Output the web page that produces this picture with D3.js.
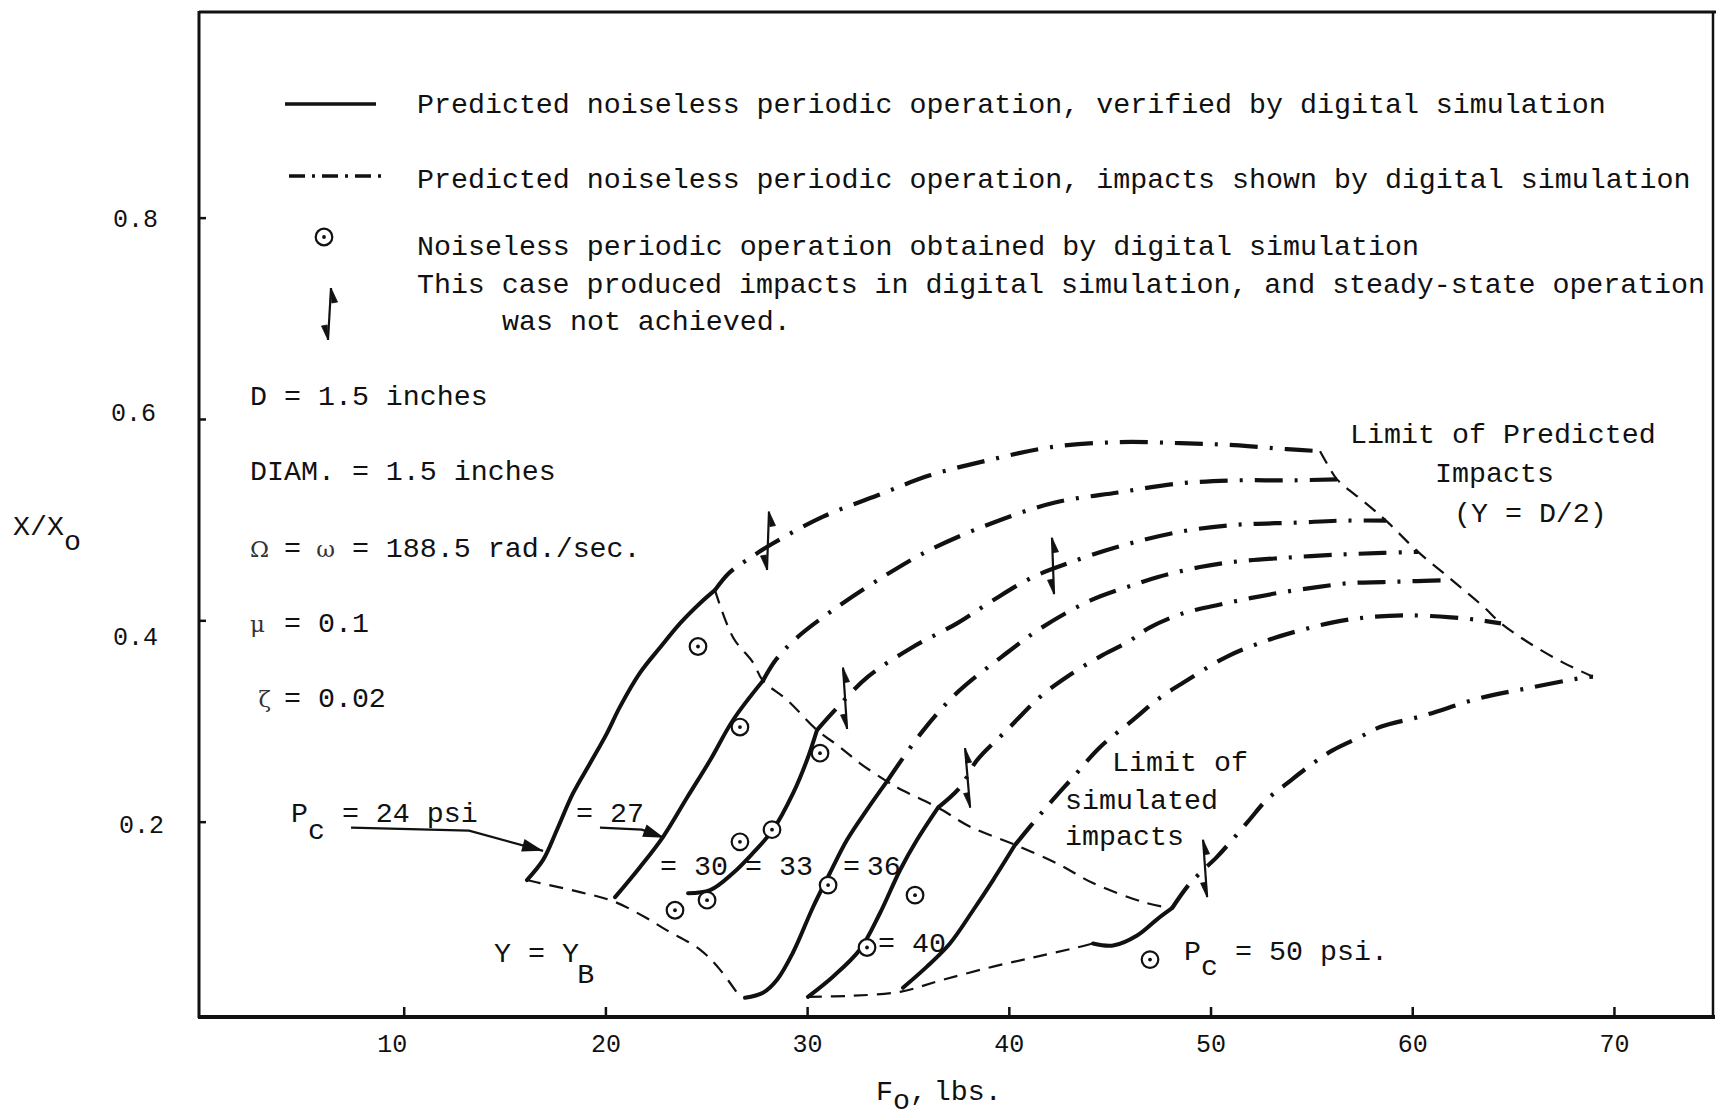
<!DOCTYPE html>
<html>
<head>
<meta charset="utf-8">
<script src="https://cdn.jsdelivr.net/npm/d3@7"></script>
<style>
  html, body { margin: 0; padding: 0; background: #fff; }
  svg { display: block; }
  text { font-family: "Liberation Mono", "DejaVu Sans Mono", monospace; fill: #111; }
  .tw { font-size: 28.3px; }
  .gk { font-family: "DejaVu Serif", serif; font-size: 23px; fill: #333; }
  .tick text { font-family: "Liberation Mono", monospace; font-size: 25px; fill: #111; }
  .tick line { stroke: #111; stroke-width: 2.5; }
</style>
</head>
<body>
<svg id="chart" width="1718" height="1116"></svg>
<script>
// ---------------- data: F_o (lbs) vs X/X_o ----------------
const xTicks = [10, 20, 30, 40, 50, 60, 70];
const yTicks = [0.2, 0.4, 0.6, 0.8];
const pressures = [24, 27, 30, 33, 36, 40, 50];   // P_c, psi

// predicted operation verified by simulation (solid)
const verified24 = [[16.11,0.142],[16.91,0.162],[17.60,0.192],[18.39,0.228],[19.24,0.258],[20.08,0.288],[20.72,0.314],[21.72,0.348],[22.71,0.373],[23.70,0.397],[24.69,0.417],[25.43,0.430]];
const verified27 = [[20.48,0.125],[21.72,0.155],[22.86,0.185],[24.05,0.224],[25.19,0.261],[26.33,0.301],[27.81,0.340]];
const verified30 = [[24.10,0.129],[25.19,0.132],[26.33,0.149],[27.32,0.169],[28.31,0.192],[29.30,0.228],[29.99,0.261],[30.49,0.291]];
const verified33 = [[26.92,0.025],[27.81,0.030],[28.51,0.043],[29.30,0.070],[30.29,0.115],[31.13,0.149],[31.98,0.182],[32.97,0.212],[33.96,0.240]];
const verified36 = [[30.04,0.026],[31.28,0.046],[32.62,0.073],[33.61,0.109],[34.61,0.152],[35.45,0.182],[36.49,0.214]];
const verified40 = [[34.75,0.035],[35.94,0.056],[37.08,0.079],[38.23,0.112],[39.22,0.142],[40.31,0.177]];
const verified50 = [[44.17,0.079],[45.17,0.077],[46.36,0.087],[47.35,0.103],[48.09,0.114]];

// predicted operation where simulation showed impacts (dash-dot)
const impact24 = [[25.43,0.430],[26.13,0.447],[27.02,0.460],[28.36,0.477],[30.79,0.503],[33.47,0.524],[36.09,0.544],[38.97,0.559],[42.09,0.572],[45.41,0.577],[48.49,0.576],[51.17,0.574],[53.79,0.570],[55.43,0.568]];
const impact27 = [[27.81,0.340],[28.46,0.361],[29.45,0.382],[31.48,0.413],[33.91,0.445],[36.09,0.470],[39.22,0.497],[42.29,0.517],[45.41,0.527],[48.49,0.536],[51.17,0.539],[53.79,0.539],[56.27,0.540]];
const impact30 = [[30.49,0.291],[31.48,0.313],[33.02,0.344],[35.20,0.373],[37.43,0.397],[39.22,0.420],[41.20,0.443],[42.98,0.457],[45.41,0.473],[48.49,0.488],[51.36,0.495],[54.24,0.497],[56.42,0.499],[58.70,0.499]];
const impact33 = [[33.96,0.240],[35.65,0.288],[37.43,0.328],[39.66,0.364],[41.65,0.393],[44.08,0.420],[46.16,0.435],[47.40,0.443],[49.48,0.453],[51.12,0.458],[53.59,0.462],[56.07,0.465],[58.55,0.467],[60.29,0.468]];
const impact36 = [[36.49,0.214],[37.58,0.234],[38.42,0.261],[39.91,0.291],[41.55,0.324],[42.89,0.344],[44.52,0.364],[45.86,0.378],[47.00,0.393],[48.64,0.407],[50.32,0.415],[51.96,0.422],[53.59,0.428],[55.28,0.433],[56.92,0.437],[58.55,0.438],[60.24,0.439],[61.97,0.440]];
const impact40 = [[40.31,0.177],[41.05,0.195],[41.89,0.215],[43.18,0.244],[44.52,0.274],[46.16,0.301],[47.35,0.321],[48.64,0.338],[50.82,0.364],[52.80,0.380],[54.44,0.390],[56.07,0.398],[57.76,0.403],[59.64,0.405],[61.92,0.403],[63.41,0.400],[64.40,0.397]];
const impact50 = [[48.09,0.114],[48.83,0.135],[49.48,0.149],[50.32,0.165],[51.81,0.199],[52.80,0.222],[53.79,0.238],[55.08,0.258],[56.07,0.271],[57.41,0.284],[58.40,0.294],[60.50,0.305],[63.41,0.323],[65.84,0.333],[68.47,0.343],[68.96,0.344]];

// boundaries (thin dashed)
const limitSimulated = [[25.43,0.430],[26.33,0.383],[27.32,0.358],[27.81,0.340],[29.00,0.321],[30.49,0.291],[31.63,0.274],[32.62,0.258],[33.96,0.240],[34.75,0.231],[36.49,0.214],[38.08,0.195],[40.31,0.177],[42.54,0.157],[44.17,0.139],[46.85,0.119],[48.09,0.114]];
const limitPredicted = [[55.43,0.568],[55.88,0.552],[56.27,0.540],[57.66,0.517],[58.70,0.499],[60.29,0.468],[61.97,0.440],[63.56,0.413],[64.40,0.397],[65.84,0.377],[67.48,0.358],[68.96,0.344]];
const boundaryYB = [[16.11,0.142],[16.76,0.139],[18.74,0.130],[20.38,0.121],[22.06,0.104],[23.05,0.092],[24.69,0.073],[25.68,0.053],[26.52,0.030]];
const boundaryLow = [[30.04,0.026],[32.13,0.027],[34.61,0.031],[36.74,0.043],[39.22,0.056],[41.40,0.066],[43.38,0.075],[44.17,0.079]];

// noiseless periodic operation obtained by simulation
const simulatedPoints = [[24.59,0.374],[26.67,0.294],[30.64,0.268],[26.67,0.180],[28.26,0.192],[23.45,0.112],[25.04,0.122],[31.04,0.137],[32.97,0.075],[35.35,0.127],[47.00,0.063]];

// cases with impacts and no steady state: [F top, X top, F bottom, X bottom]
const impactCases = [[28.11,0.508,28.01,0.450],[42.14,0.482,42.24,0.426],[31.78,0.353,31.98,0.292],[37.83,0.273,38.08,0.214],[49.63,0.182,49.83,0.125]];

// label pointers
const pointer24 = [[7.39,0.194],[13.24,0.191],[16.91,0.171]];
const pointer27 = [[19.73,0.194],[21.81,0.192],[22.91,0.184]];

const verified = [verified24, verified27, verified30, verified33, verified36, verified40, verified50];
const impacts  = [impact24, impact27, impact30, impact33, impact36, impact40, impact50];

// ---------------- drawing ----------------
const svg = d3.select("#chart");
const ink = "#111";
const x = d3.scaleLinear().domain([0, 75]).range([202, 1714.8]);
const y = d3.scaleLinear().domain([0, 1]).range([1023, 16.3]);
const curve = d3.line().x(d => x(d[0])).y(d => y(d[1])).curve(d3.curveCatmullRom.alpha(0.5));
const straight = d3.line().x(d => x(d[0])).y(d => y(d[1]));

// frame
const frame = svg.append("g").attr("stroke", ink).attr("fill", "none");
frame.append("line").attr("x1", 199).attr("y1", 12).attr("x2", 1716).attr("y2", 12).attr("stroke-width", 3);
frame.append("line").attr("x1", 199).attr("y1", 11).attr("x2", 199).attr("y2", 1018).attr("stroke-width", 3);
frame.append("line").attr("x1", 1713).attr("y1", 11).attr("x2", 1713).attr("y2", 1018).attr("stroke-width", 2.5);
frame.append("line").attr("x1", 198).attr("y1", 1017).attr("x2", 1715).attr("y2", 1017).attr("stroke-width", 4);

// axes
const xLabelNudge = {10: -12};
const yLabelNudge = {0.2: [6, 3], 0.4: [0, 16], 0.6: [-2, -6], 0.8: [0, 1]};
const gx = svg.append("g").attr("transform", "translate(0,1017)")
  .call(d3.axisBottom(x).tickValues(xTicks).tickSize(-10).tickPadding(17).tickFormat(d3.format("d")));
gx.select(".domain").remove();
gx.selectAll(".tick text").attr("dx", d => xLabelNudge[d] || 0);
const gy = svg.append("g").attr("transform", "translate(199,0)")
  .call(d3.axisLeft(y).tickValues(yTicks).tickSize(-7).tickPadding(41).tickFormat(d3.format(".1f")));
gy.select(".domain").remove();
gy.selectAll(".tick text")
  .attr("dx", d => (yLabelNudge[d] || [0, 0])[0])
  .attr("y", d => (yLabelNudge[d] || [0, 0])[1]);

// thin dashed boundaries
const dashed = svg.append("g").attr("fill", "none").attr("stroke", ink)
  .attr("stroke-width", 2.2).attr("stroke-dasharray", "14 9");
[limitSimulated, limitPredicted, boundaryYB, boundaryLow].forEach(p =>
  dashed.append("path").attr("d", curve(p)));

// dash-dot predicted segments
svg.append("g").attr("fill", "none").attr("stroke", ink).attr("stroke-width", 4.2)
  .attr("stroke-dasharray", "28 12 3 12").attr("stroke-linecap", "butt")
  .selectAll("path").data(impacts).join("path").attr("d", curve);

// solid verified segments
svg.append("g").attr("fill", "none").attr("stroke", ink).attr("stroke-width", 4)
  .attr("stroke-linecap", "round")
  .selectAll("path").data(verified).join("path").attr("d", curve);

// pointers from the P_c labels
function pointer(pts) {
  svg.append("path").attr("d", straight(pts)).attr("fill", "none").attr("stroke", ink).attr("stroke-width", 2.2);
  const a = pts[pts.length - 2], b = pts[pts.length - 1];
  const x1 = x(a[0]), y1 = y(a[1]), x2 = x(b[0]), y2 = y(b[1]);
  const ang = Math.atan2(y2 - y1, x2 - x1), L = 21, W = 6.5;
  const bx = x2 - L * Math.cos(ang), by = y2 - L * Math.sin(ang);
  const nx = -Math.sin(ang) * W, ny = Math.cos(ang) * W;
  svg.append("path").attr("fill", ink)
    .attr("d", `M${x2},${y2}L${bx + nx},${by + ny}L${bx - nx},${by - ny}Z`);
}
pointer(pointer24);
pointer(pointer27);

// impact glyph: shaft with opposite half-arrowheads
function impactGlyph(g, xt, yt, xb, yb) {
  g.append("line").attr("x1", xt).attr("y1", yt).attr("x2", xb).attr("y2", yb)
    .attr("stroke", ink).attr("stroke-width", 2.2);
  g.append("path").attr("fill", ink).attr("stroke", ink).attr("stroke-width", 0.8)
    .attr("d", `M${xt},${yt}L${xt + 6.5},${yt + 14}L${xt + 0.8},${yt + 15}Z`);
  g.append("path").attr("fill", ink).attr("stroke", ink).attr("stroke-width", 0.8)
    .attr("d", `M${xb},${yb}L${xb - 6.5},${yb - 14}L${xb - 0.8},${yb - 15}Z`);
}
const glyphs = svg.append("g");
impactCases.forEach(c => impactGlyph(glyphs, x(c[0]), y(c[1]), x(c[2]), y(c[3])));

// simulation points
function dotCircle(g, cx, cy) {
  g.append("circle").attr("cx", cx).attr("cy", cy).attr("r", 8.3)
    .attr("fill", "#fff").attr("stroke", ink).attr("stroke-width", 2.2);
  g.append("circle").attr("cx", cx).attr("cy", cy).attr("r", 1.9).attr("fill", ink);
}
const pts = svg.append("g");
simulatedPoints.forEach(p => dotCircle(pts, x(p[0]), y(p[1])));

// typewriter-style text: parts placed on fixed character columns
const CW = 16.98;
function typed(x0, y0, parts) {
  const t = svg.append("text").attr("class", "tw");
  parts.forEach(([s, col, dy, cls]) => {
    t.append("tspan").attr("x", x0 + col * CW).attr("y", y0 + (dy || 0))
      .attr("class", cls || null).text(s);
  });
  return t;
}

// legend
svg.append("line").attr("x1", 285).attr("y1", 104).attr("x2", 376).attr("y2", 104)
  .attr("stroke", ink).attr("stroke-width", 3.5);
typed(417, 113, [["Predicted noiseless periodic operation, verified by digital simulation", 0]]);
svg.append("line").attr("x1", 289).attr("y1", 176).attr("x2", 384).attr("y2", 176)
  .attr("stroke", ink).attr("stroke-width", 3.5).attr("stroke-dasharray", "16 7 3 7");
typed(417, 188, [["Predicted noiseless periodic operation, impacts shown by digital simulation", 0]]);
dotCircle(svg.append("g"), 324, 237);
typed(417, 255, [["Noiseless periodic operation obtained by digital simulation", 0]]);
typed(417, 293, [["This case produced impacts in digital simulation, and steady-state operation", 0]])
  .select("tspan").attr("textLength", 1288).attr("lengthAdjust", "spacing");
typed(502, 330, [["was not achieved.", 0]]);
impactGlyph(svg.append("g"), 331, 288, 328, 340);

// parameters
typed(250, 405, [["D = 1.5 inches", 0]]);
typed(250, 480, [["DIAM. = 1.5 inches", 0]]);
typed(250, 557, [["\u03A9", 0, 0, "gk"], ["=", 2], ["\u03C9", 3.9, 0, "gk"], ["= 188.5 rad./sec.", 6]]);
typed(250, 632, [["\u03BC", 0, 0, "gk"], ["= 0.1", 2]]);
typed(250, 707, [["\u03B6", 0.5, 0, "gk"], ["= 0.02", 2]]);

// axis titles
typed(13, 535, [["X/X", 0], ["o", 3, 15]]);
typed(876, 1100, [["F", 0], ["o", 1, 9], [",", 2], ["lbs.", 3.4]]);

// curve labels, anchored in data units
typed(x(4.41), y(0.200), [["P", 0], ["c", 1, 17], ["= 24 psi", 3]]);
typed(x(18.54), y(0.200), [["= 27", 0]]);
typed(x(22.71), y(0.147), [["= 30", 0]]);
typed(x(26.92), y(0.147), [["= 33", 0]]);
typed(x(31.78), y(0.147), [["=", 0], ["36", 1.4]]);
typed(x(33.52), y(0.0705), [["= 40", 0]]);
typed(x(48.69), y(0.0626), [["P", 0], ["c", 1, 15], ["= 50 psi.", 3]]);
typed(x(14.48), y(0.0606), [["Y = Y", 0], ["B", 4.9, 21]]);
typed(x(45.12), y(0.250), [["Limit of", 0]]);
typed(x(42.79), y(0.2126), [["simulated", 0]]);
typed(x(42.79), y(0.177), [["impacts", 0]]);
typed(x(56.92), y(0.576), [["Limit of Predicted", 0]]);
typed(x(61.13), y(0.537), [["Impacts", 0]]);
typed(x(62.07), y(0.498), [["(Y = D/2)", 0]]);
</script>
</body>
</html>
